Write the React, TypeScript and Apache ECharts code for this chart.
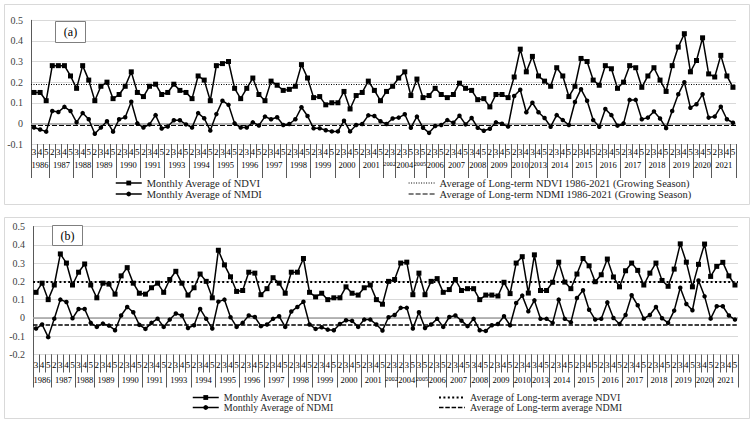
import React, { useEffect, useRef } from 'react';
import * as echarts from 'echarts';

const FONT = 'Liberation Serif';

const yearLabels = ['1986','1987','1988','1989','1990','1991','1993','1994','1995','1996','1997','1998','1999','2000','2001','2002','2004','2005','2006','2007','2008','2009','2010','2013','2014','2015','2016','2017','2018','2019','2020','2021'];
const yearMonths = [
  [3,4,5],[2,3,4,5],[3,4,5],[2,3,4,5],[2,3,4,5],[2,3,4,5],[2,3,4,5],[2,3,4,5],
  [2,3,4,5],[2,3,4,5],[2,3,4,5],[2,3,4,5],[2,3,4,5],[2,3,4,5],[2,3,4,5],[2,3],
  [2,3,5],[3,5],[2,3,5],[2,3,4,5],[3,4,5],[2,3,4,5],[2,3,4],[3,4,5],
  [2,3,4,5],[2,3,4,5],[2,3,4,5],[2,3,4,5],[2,3,4,5],[2,3,4,5],[3,4,5],[2,3,4,5]
];

const ndviA = [0.15,0.15,0.11,0.28,0.28,0.28,0.23,0.17,0.28,0.21,
 0.11,0.18,0.20,0.12,0.14,0.18,0.25,0.15,0.13,0.18,
 0.19,0.14,0.15,0.19,0.16,0.15,0.12,0.23,0.21,0.11,
 0.28,0.29,0.30,0.17,0.12,0.17,0.22,0.14,0.11,0.205,
 0.185,0.16,0.165,0.18,0.285,0.22,0.125,0.13,0.09,0.10,
 0.10,0.155,0.07,0.135,0.15,0.205,0.16,0.11,0.155,0.18,
 0.22,0.25,0.135,0.215,0.125,0.135,0.17,0.14,0.125,0.14,
 0.195,0.17,0.16,0.115,0.12,0.08,0.14,0.14,0.125,0.225,
 0.36,0.25,0.325,0.23,0.205,0.18,0.27,0.23,0.13,0.18,
 0.315,0.30,0.21,0.185,0.28,0.265,0.17,0.20,0.28,0.27,
 0.175,0.23,0.27,0.21,0.155,0.28,0.37,0.435,0.25,0.305,
 0.415,0.24,0.225,0.33,0.23,0.175];

const nmdiA = [-0.02,-0.03,-0.04,0.06,0.055,0.08,0.06,0.005,0.05,0.02,
 -0.05,-0.02,0.01,-0.04,0.02,0.03,0.105,0.0,-0.02,-0.005,
 0.04,-0.025,-0.015,0.015,0.015,-0.005,-0.02,0.05,0.025,-0.035,
 0.045,0.11,0.09,0.0,-0.02,-0.02,0.005,-0.01,0.033,0.02,
 0.03,-0.008,-0.003,0.02,0.078,0.036,-0.024,-0.024,-0.033,-0.039,
 -0.039,0.013,-0.039,-0.008,-0.003,0.039,0.036,0.01,-0.003,0.024,
 0.028,0.044,-0.021,0.033,-0.021,-0.046,-0.013,-0.008,0.016,0.003,
 0.037,-0.005,0.026,-0.021,-0.036,-0.026,0.005,-0.002,-0.015,0.133,
 0.163,0.054,0.10,0.054,0.026,-0.016,0.04,0.016,-0.008,0.104,
 0.166,0.11,0.016,-0.016,0.07,0.04,-0.011,0.0,0.114,0.114,
 0.02,0.028,0.058,0.024,-0.023,0.06,0.141,0.2,0.076,0.093,
 0.141,0.028,0.033,0.081,0.02,0.003];

const ndviB = [0.14,0.19,0.10,0.18,0.35,0.30,0.18,0.25,0.295,0.18,
 0.11,0.19,0.185,0.13,0.23,0.275,0.19,0.135,0.13,0.165,
 0.19,0.14,0.21,0.255,0.19,0.125,0.165,0.24,0.20,0.11,
 0.37,0.29,0.225,0.145,0.15,0.25,0.245,0.127,0.16,0.22,
 0.19,0.135,0.25,0.25,0.325,0.14,0.115,0.135,0.10,0.11,
 0.11,0.17,0.135,0.125,0.165,0.18,0.10,0.075,0.20,0.21,
 0.30,0.305,0.127,0.245,0.127,0.20,0.215,0.14,0.155,0.21,
 0.15,0.16,0.16,0.10,0.125,0.125,0.12,0.195,0.133,0.30,
 0.335,0.136,0.345,0.15,0.15,0.195,0.305,0.196,0.16,0.24,
 0.325,0.285,0.198,0.236,0.322,0.224,0.17,0.258,0.30,0.26,
 0.18,0.245,0.30,0.205,0.173,0.267,0.405,0.305,0.17,0.293,
 0.404,0.227,0.282,0.304,0.23,0.18];

const ndmiB = [-0.058,-0.036,-0.105,-0.004,0.10,0.087,-0.002,0.049,0.049,-0.027,
 -0.049,-0.031,-0.042,-0.067,0.013,0.06,0.031,-0.038,-0.06,-0.027,
 -0.004,-0.049,-0.009,0.024,0.013,-0.055,-0.04,0.049,-0.005,-0.058,
 0.089,0.10,0.004,-0.049,-0.027,0.013,0.005,-0.045,-0.036,-0.005,
 0.009,-0.049,0.035,0.06,0.089,-0.036,-0.06,-0.051,-0.064,-0.067,
 -0.033,-0.013,-0.016,-0.049,-0.009,-0.009,-0.036,-0.069,0.004,0.016,
 0.055,0.055,-0.058,0.031,-0.055,-0.036,-0.005,-0.049,0.005,0.013,
 -0.015,-0.045,-0.005,-0.067,-0.071,-0.04,-0.033,0.009,-0.04,0.082,
 0.122,0.036,0.096,-0.005,-0.005,-0.027,0.10,-0.005,-0.024,0.109,
 0.151,0.045,-0.009,-0.005,0.085,0.0,-0.033,0.016,0.124,0.069,
 -0.004,0.016,0.06,-0.002,-0.027,0.04,0.165,0.076,0.042,0.205,
 0.118,-0.004,0.064,0.064,0.013,-0.009];

const avgNdviA = 0.19;
const avgNdmiA = -0.01;
const avgNdviB = 0.195;
const avgNdmiB = -0.035;

const yMinA = -0.1;
const yMinB = -0.2;
const yMax = 0.5;
const yStep = 0.1;

const namesA = ['Monthly Average of NDVI', 'Monthly Average of NMDI', 'Average of Long-term NDVI 1986-2021 (Growing Season)', 'Average of Long-term NDMI 1986-2021 (Growing Season)'];
const namesB = ['Monthly Average of NDVI', 'Monthly Average of NDMI', 'Average of Long-term average NDVI', 'Average of Long-term average NDMI'];

// month categories and year slots (half-category resolution for centred year labels)
const months: string[] = [];
const groupStart: number[] = [];
yearMonths.forEach((ms) => {
  groupStart.push(months.length);
  ms.forEach((m) => months.push(String(m)));
});
const N = months.length;
const yearSlots: string[] = [];
const yearSlotShort: boolean[] = [];
for (let k = 0; k <= 2 * N; k++) { yearSlots.push(''); yearSlotShort.push(false); }
const boundaries = new Set<number>();
yearMonths.forEach((ms, g) => {
  const s = groupStart[g];
  yearSlots[2 * s + ms.length] = yearLabels[g];
  yearSlotShort[2 * s + ms.length] = ms.length < 3;
  boundaries.add(2 * s);
});
boundaries.add(2 * N);
const slotIds = yearSlots.map((_, k) => 'k' + k);

export default function App() {
  const ref = useRef<HTMLDivElement>(null);
  useEffect(() => {
    const chart = echarts.init(ref.current!, null, { renderer: 'svg' });

    const panels = [
      { grid: { left: 31, top: 20.3, width: 705, height: 123.7 }, yMin: yMinA, mM: 3, mT: 14, yM: 16.5, yT: 34, lab: 8,
        ndvi: ndviA, ndmi: nmdiA, avgV: avgNdviA, avgM: avgNdmiA, names: namesA,
        dot: { width: 1, type: [1, 1.5] }, dash: { width: 1.2, type: [5, 2] } },
      { grid: { left: 33, top: 226.5, width: 705, height: 128 }, yMin: yMinB, mM: 6, mT: 18, yM: 21, yT: 33, lab: 8,
        ndvi: ndviB, ndmi: ndmiB, avgV: avgNdviB, avgM: avgNdmiB, names: namesB,
        dot: { width: 2, type: [2, 2.4] }, dash: { width: 1.5, type: [4.5, 1.8] } },
    ];

    const grid: any[] = [];
    const xAxis: any[] = [];
    const yAxis: any[] = [];
    const series: any[] = [];

    panels.forEach((p, pi) => {
      grid.push(p.grid);
      xAxis.push({
        type: 'category', gridIndex: pi, data: months, boundaryGap: true, position: 'bottom',
        axisLine: { show: false, onZero: false },
        axisTick: { show: true, interval: 0, length: p.mT, lineStyle: { color: '#595959', width: 1 } },
        axisLabel: { interval: 0, margin: p.mM, fontFamily: FONT, fontSize: 9, color: '#000' },
        splitLine: { show: false },
      });
      xAxis.push({
        type: 'category', gridIndex: pi, data: slotIds, boundaryGap: false, position: 'bottom',
        axisLine: { show: false, onZero: false },
        axisTick: { show: true, interval: (i: number) => boundaries.has(i), length: p.yT, lineStyle: { color: '#595959', width: 1 } },
        axisLabel: { interval: (i: number) => yearSlots[i] !== '',
          formatter: (_v: string, i: number) => yearSlotShort[i] ? '{s|' + yearSlots[i] + '}' : yearSlots[i],
          margin: p.yM, fontFamily: FONT, fontSize: 8.5, color: '#000',
          rich: { s: { fontFamily: FONT, fontSize: 6.3, color: '#000' } } },
        splitLine: { show: false },
      });
      yAxis.push({
        type: 'value', gridIndex: pi, min: p.yMin, max: yMax, interval: yStep,
        axisLine: { show: true, lineStyle: { color: '#595959', width: 1 } },
        axisTick: { show: false },
        axisLabel: { margin: p.lab, fontFamily: FONT, fontSize: 10, color: '#404040',
          formatter: (v: number) => String(Math.round(v * 10) / 10) },
        splitLine: { show: true, lineStyle: { color: '#d9d9d9', width: 1 } },
      });
      const xi = pi * 2;
      series.push({
        name: p.names[0], type: 'line', xAxisIndex: xi, yAxisIndex: pi, data: p.ndvi,
        symbol: 'rect', symbolSize: 5, z: 3,
        lineStyle: { color: '#000', width: 1.5 }, itemStyle: { color: '#000' },
        markLine: { silent: true, z: 1, symbol: ['none', 'none'], label: { show: false },
          lineStyle: { color: '#a0a0a0', width: 1.5, type: 'solid' }, data: [{ yAxis: 0 }] },
      });
      series.push({
        name: p.names[1], type: 'line', xAxisIndex: xi, yAxisIndex: pi, data: p.ndmi,
        symbol: 'circle', symbolSize: 4.5, z: 3,
        lineStyle: { color: '#000', width: 1.5 }, itemStyle: { color: '#000' },
      });
      series.push({
        name: p.names[2], type: 'line', xAxisIndex: xi, yAxisIndex: pi, data: [],
        symbol: 'none', lineStyle: { color: '#000', ...p.dot }, itemStyle: { color: '#000' },
        markLine: { silent: true, symbol: ['none', 'none'], label: { show: false },
          lineStyle: { color: '#000', ...p.dot }, data: [{ yAxis: p.avgV }] },
      });
      series.push({
        name: p.names[3], type: 'line', xAxisIndex: xi, yAxisIndex: pi, data: [],
        symbol: 'none', lineStyle: { color: '#000', ...p.dash }, itemStyle: { color: '#000' },
        markLine: { silent: true, symbol: ['none', 'none'], label: { show: false },
          lineStyle: { color: '#000', ...p.dash }, data: [{ yAxis: p.avgM }] },
      });
    });

    const mkLegend = (names: string[], dotOrDash: any[], left: number, top: number, fs: number, lh: number) => ({
      orient: 'vertical', left, top, padding: 0, itemWidth: 26, itemHeight: 6, itemGap: 0, selectedMode: false,
      textStyle: { fontFamily: FONT, fontSize: fs, lineHeight: lh, color: '#262626' },
      data: names.map((n, i) => dotOrDash[i]
        ? { name: n, itemStyle: { opacity: 0, color: 'rgba(0,0,0,0)' }, lineStyle: { color: '#000', ...dotOrDash[i] } }
        : { name: n, lineStyle: { color: '#000', width: 1.5 } }),
    });

    const pa = panels[0], pb = panels[1];
    const legend = [
      mkLegend(namesA.slice(0, 2), [null, null], 115, 177.5, 10.5, 11),
      mkLegend(namesA.slice(2), [pa.dot, pa.dash], 408, 177.5, 10.5, 11),
      mkLegend(namesB.slice(0, 2), [null, null], 192, 392.5, 10, 9),
      mkLegend(namesB.slice(2), [pb.dot, pb.dash], 438, 392.5, 10, 9),
    ];

    const graphic = [
      { type: 'rect', silent: true, z: -10, shape: { x: 4.5, y: 4.5, width: 745, height: 200 }, style: { fill: 'none', stroke: '#d9d9d9', lineWidth: 1 } },
      { type: 'rect', silent: true, z: -10, shape: { x: 4.5, y: 217.5, width: 745, height: 201 }, style: { fill: 'none', stroke: '#d9d9d9', lineWidth: 1 } },
      { type: 'rect', silent: true, z: 100, shape: { x: 55.5, y: 21.5, width: 30, height: 21 }, style: { fill: '#fff', stroke: '#7f7f7f', lineWidth: 1 } },
      { type: 'text', silent: true, z: 101, x: 70.5, y: 32, style: { text: '(a)', fill: '#000', font: '12px "Liberation Serif"', textAlign: 'center', textVerticalAlign: 'middle', align: 'center', verticalAlign: 'middle' } },
      { type: 'rect', silent: true, z: 100, shape: { x: 52.5, y: 225.5, width: 30, height: 20 }, style: { fill: '#fff', stroke: '#7f7f7f', lineWidth: 1 } },
      { type: 'text', silent: true, z: 101, x: 67.5, y: 235.5, style: { text: '(b)', fill: '#000', font: '12px "Liberation Serif"', textAlign: 'center', textVerticalAlign: 'middle', align: 'center', verticalAlign: 'middle' } },
    ];

    chart.setOption({
      animation: false,
      backgroundColor: '#fff',
      grid, xAxis, yAxis, series, legend, graphic,
    });
    return () => chart.dispose();
  }, []);
  return <div ref={ref} style={{ position: 'fixed', left: 0, top: 0, width: 755, height: 422, background: '#fff' }} />;
}
